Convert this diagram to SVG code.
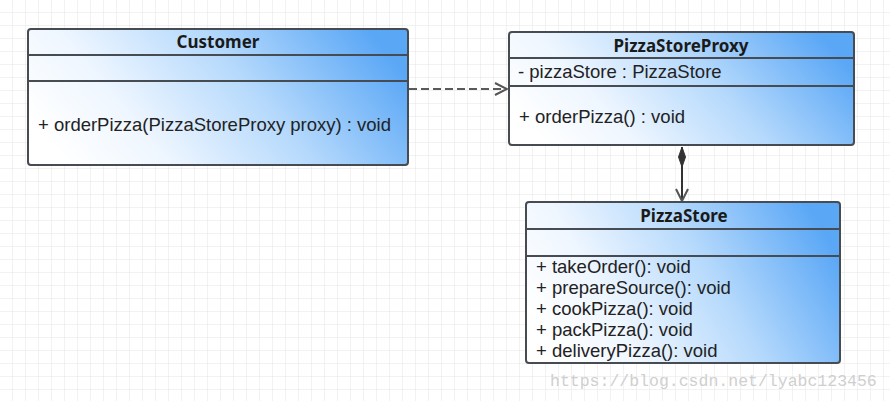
<svg xmlns="http://www.w3.org/2000/svg" width="890" height="401" viewBox="0 0 890 401">
  <defs>
    <pattern id="grid" width="13" height="13" patternUnits="userSpaceOnUse">
      <path d="M13 0V13M0 13H13" fill="none" stroke="#e4e4e4" stroke-width="1"/>
    </pattern>
    <linearGradient id="fill" x1="0" y1="0.65" x2="1" y2="0.35">
      <stop offset="0" stop-color="#ffffff"/>
      <stop offset="0.25" stop-color="#eef6ff"/>
      <stop offset="0.6" stop-color="#b5d9fc"/>
      <stop offset="1" stop-color="#5aa7f6"/>
    </linearGradient>
    <marker id="open" viewBox="0 0 14 14" refX="13" refY="7" markerWidth="14" markerHeight="14" markerUnits="userSpaceOnUse" orient="auto">
      <path d="M1 1L13 7L1 13" fill="none" stroke="#555" stroke-width="2"/>
    </marker>
    <marker id="diamond" viewBox="0 0 20 10" refX="0" refY="5" markerWidth="20" markerHeight="10" markerUnits="userSpaceOnUse" orient="auto">
      <path d="M0 5L10 1.5L20 5L10 8.5Z" fill="#333" stroke="#333" stroke-width="1"/>
    </marker>
  </defs>
  <style>
    .box { fill: url(#fill); stroke: #474c52; stroke-width: 2; }
    .sep { stroke: #474c52; stroke-width: 2; }
    .title { font-family: "Noto Sans", "Open Sans", sans-serif; font-weight: bold; font-size: 17px; fill: #1a1a1a; text-anchor: middle; }
    .member { font-family: "Liberation Sans", Arial, sans-serif; font-size: 18.5px; fill: #222; }
    .wm { font-family: "Liberation Mono", "DejaVu Sans Mono", monospace; font-size: 16.5px; fill: #cfcfcf; }
  </style>
  <rect x="0" y="0" width="890" height="401" fill="#ffffff"/>
  <rect x="0" y="0" width="890" height="401" fill="url(#grid)"/>

  <g id="connectors">
    <line x1="409" y1="89" x2="507" y2="89" stroke="#5a5a5a" stroke-width="2" stroke-dasharray="8,4" marker-end="url(#open)"/>
    <line x1="682" y1="147" x2="682" y2="201" stroke="#333" stroke-width="2" marker-start="url(#diamond)" marker-end="url(#open)"/>
  </g>

  <g id="Customer">
    <rect class="box" x="28" y="29" width="380" height="136" rx="3"/>
    <line class="sep" x1="28" y1="55" x2="408" y2="55"/>
    <line class="sep" x1="28" y1="81" x2="408" y2="81"/>
    <text class="title" x="218" y="48">Customer</text>
    <text class="member" x="38" y="131" textLength="353" lengthAdjust="spacingAndGlyphs">+ orderPizza(PizzaStoreProxy proxy) : void</text>
  </g>

  <g id="PizzaStoreProxy">
    <rect class="box" x="509" y="32" width="345" height="113" rx="3"/>
    <line class="sep" x1="509" y1="58" x2="854" y2="58"/>
    <line class="sep" x1="509" y1="86" x2="854" y2="86"/>
    <text class="title" x="681" y="52">PizzaStoreProxy</text>
    <text class="member" x="518" y="78">- pizzaStore : PizzaStore</text>
    <text class="member" x="519" y="123">+ orderPizza() : void</text>
  </g>

  <g id="PizzaStore">
    <rect class="box" x="526" y="202" width="314" height="161" rx="3"/>
    <line class="sep" x1="526" y1="229" x2="840" y2="229"/>
    <line class="sep" x1="526" y1="256" x2="840" y2="256"/>
    <text class="title" x="684" y="222">PizzaStore</text>
    <text class="member" x="536" y="273">+ takeOrder(): void</text>
    <text class="member" x="536" y="294">+ prepareSource(): void</text>
    <text class="member" x="536" y="315">+ cookPizza(): void</text>
    <text class="member" x="536" y="336">+ packPizza(): void</text>
    <text class="member" x="536" y="357">+ deliveryPizza(): void</text>
  </g>

  <text class="wm" x="550" y="386">https://blog.csdn.net/lyabc123456</text>
</svg>
